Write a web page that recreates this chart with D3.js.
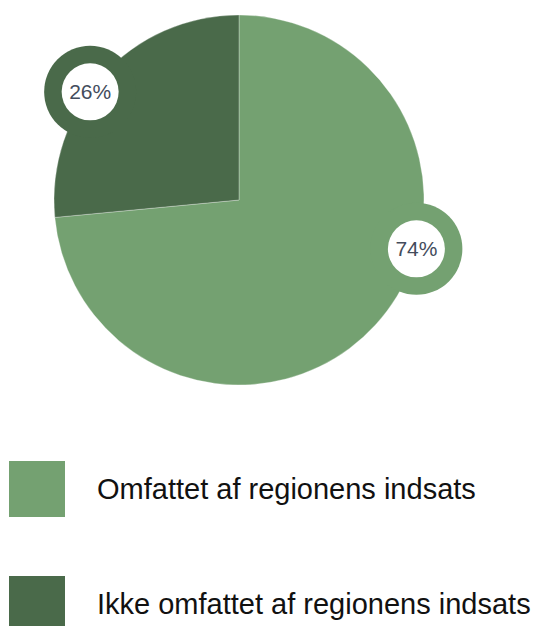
<!DOCTYPE html>
<html>
<head>
<meta charset="utf-8">
<script src="https://cdn.jsdelivr.net/npm/d3@7"></script>
<style>
  body { margin: 0; background: #fff; }
  svg { display: block; }
</style>
</head>
<body>
<script>
// data
var categories = ['Omfattet af regionens indsats', 'Ikke omfattet af regionens indsats'];
var values = [73.5, 26.5];
var labels = ['74%', '26%'];
var colors = ['#74a171', '#4a6a4a'];

// where the bubble sits on the rim, degrees clockwise from 12 o'clock
var labelAngles = [105.4, 306];

var width = 536, height = 626;
var cx = 239, cy = 200, radius = 185;

var svg = d3.select(document.body)
  .append('svg')
  .attr('width', width)
  .attr('height', height);

var pie = d3.pie().sort(null).value(function(d){ return d; });
var arc = d3.arc().innerRadius(0).outerRadius(radius);
var arcs = pie(values);

var g = svg.append('g').attr('transform', 'translate(' + cx + ',' + cy + ')');

g.selectAll('path.slice')
  .data(arcs)
  .enter()
  .append('path')
  .attr('class', 'slice')
  .attr('d', arc)
  .attr('fill', function(d, i){ return colors[i]; })
  .attr('stroke', '#ffffff')
  .attr('stroke-opacity', 0.5)
  .attr('stroke-width', 0.6);

// label bubbles
var bubble = g.selectAll('g.bubble')
  .data(arcs)
  .enter()
  .append('g')
  .attr('class', 'bubble')
  .attr('transform', function(d, i){
    var a = labelAngles[i] * Math.PI / 180;
    var r = radius - 1;
    return 'translate(' + (Math.sin(a) * r) + ',' + (-Math.cos(a) * r) + ')';
  });

bubble.append('circle')
  .attr('r', 46)
  .attr('fill', function(d, i){ return colors[i]; });

bubble.append('circle')
  .attr('r', 28.5)
  .attr('fill', '#ffffff');

bubble.append('text')
  .attr('text-anchor', 'middle')
  .attr('dy', '0.36em')
  .style('font-family', 'Liberation Sans, Arial, sans-serif')
  .style('font-size', '21px')
  .style('fill', '#434c5c')
  .text(function(d, i){ return labels[i]; });

// legend
var legend = svg.selectAll('g.legend')
  .data(categories)
  .enter()
  .append('g')
  .attr('class', 'legend')
  .attr('transform', function(d, i){ return 'translate(9,' + (461 + i * 115) + ')'; });

legend.append('rect')
  .attr('width', 56)
  .attr('height', 56)
  .attr('fill', function(d, i){ return colors[i]; });

legend.append('text')
  .attr('x', 88)
  .attr('y', 38)
  .style('font-family', 'Liberation Sans, Arial, sans-serif')
  .style('font-size', '29px')
  .style('fill', '#111')
  .text(function(d){ return d; });
</script>
</body>
</html>
